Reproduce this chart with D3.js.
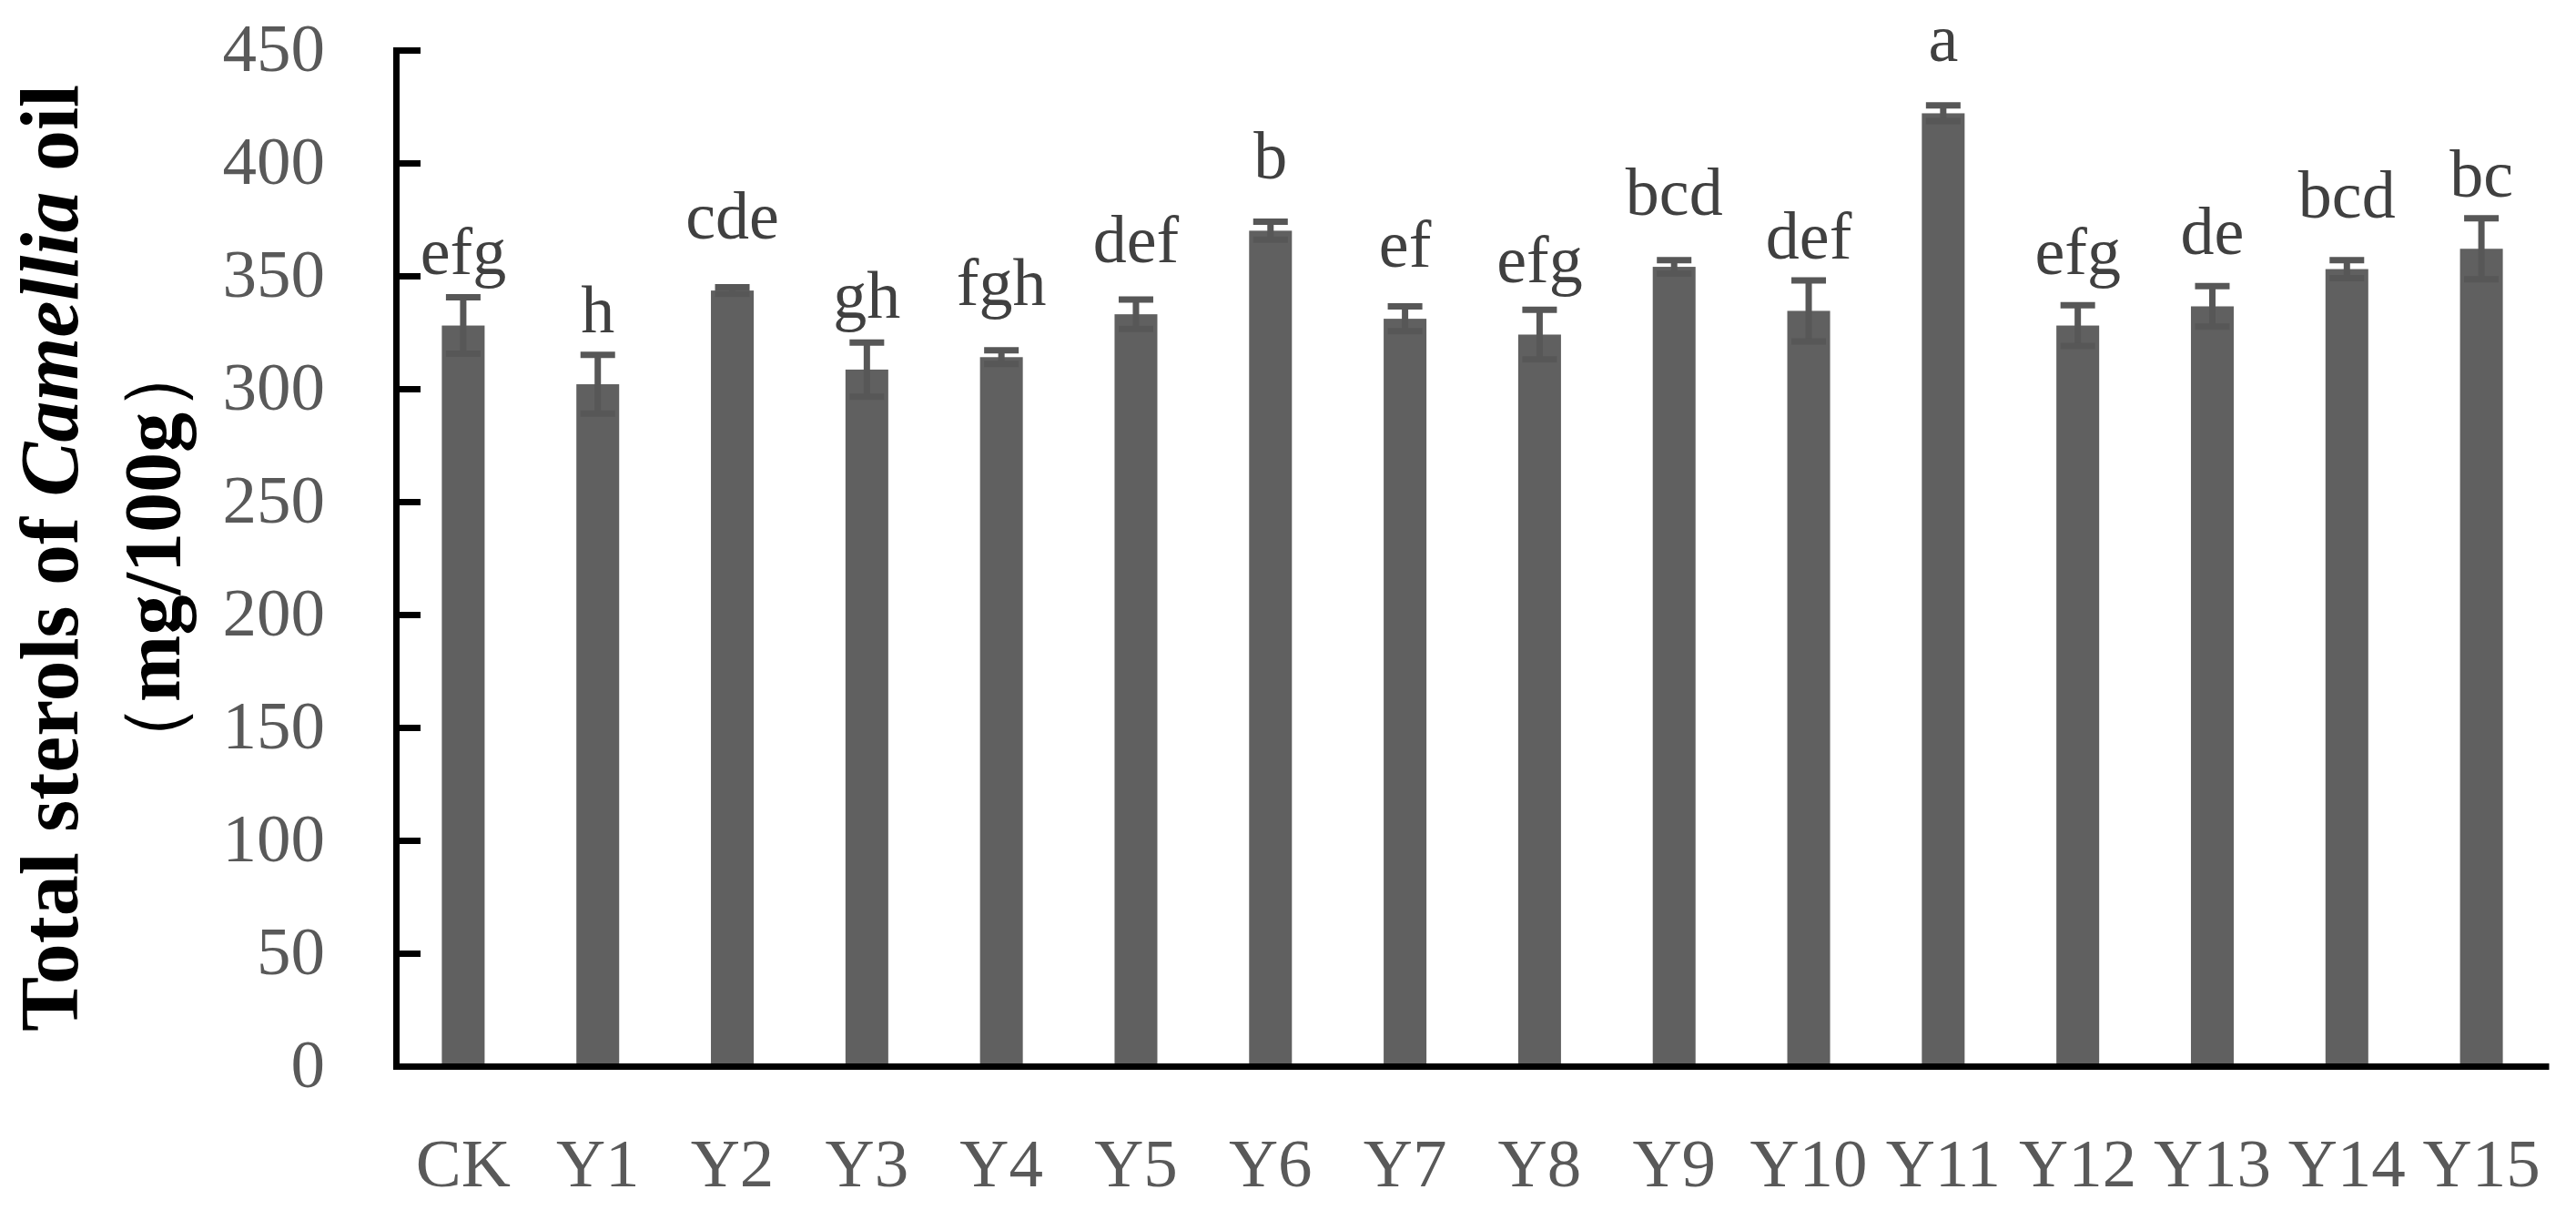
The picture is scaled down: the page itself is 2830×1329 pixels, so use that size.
<!DOCTYPE html>
<html lang="en">
<head>
<meta charset="UTF-8">
<title>Total sterols of Camellia oil</title>
<script src="https://d3js.org/d3.v7.min.js"></script>
<style type="text/css">
	body { margin: 0; background: #fff; }
	#chart text { font-family: "Liberation Serif", "DejaVu Serif", serif; }
</style>
</head>
<body>
<div id="chart"></div>
<script type="text/javascript">

// data (mg/100g)
const categories = ['CK','Y1','Y2','Y3','Y4','Y5','Y6','Y7','Y8','Y9','Y10','Y11','Y12','Y13','Y14','Y15'];
const sterols = [328, 302, 343.5, 308.5, 314, 333, 370, 331, 324, 354, 334.5, 422, 328, 336.5, 353, 362];
const sd = [12.5, 13, 1.5, 12, 3, 6.5, 4, 5.5, 11, 3, 13.5, 3.5, 9, 9, 4, 13.5];
const letters = ['efg','h','cde','gh','fgh','def','b','ef','efg','bcd','def','a','efg','de','bcd','bc'];
const yTicks = [0, 50, 100, 150, 200, 250, 300, 350, 400, 450];

const width = 2830, height = 1329;
const plotLeft = 435, plotRight = 2800, plotBottom = 1171, plotTop = 55;

const svg = d3.select('#chart').append('svg')
	.attr('width', width)
	.attr('height', height);

const x = d3.scaleBand()
	.domain(categories)
	.range([plotLeft, plotRight])
	.paddingInner(0.682)
	.paddingOuter(0.341);

const y = d3.scaleLinear()
	.domain([0, 450])
	.range([plotBottom, plotTop]);

// bars
svg.append('g').selectAll('rect')
	.data(categories)
	.enter().append('rect')
		.attr('x', d => x(d))
		.attr('y', (d, i) => y(sterols[i]))
		.attr('width', x.bandwidth())
		.attr('height', (d, i) => y(0) - y(sterols[i]))
		.attr('fill', '#606060');

// error bars
const err = svg.append('g')
	.attr('stroke', '#575757')
	.attr('stroke-width', 7);
categories.forEach(function(c, i) {
	const cx = x(c) + x.bandwidth() / 2;
	const hi = y(sterols[i] + sd[i]), lo = y(sterols[i] - sd[i]);
	err.append('line').attr('x1', cx).attr('x2', cx).attr('y1', hi).attr('y2', lo);
	err.append('line').attr('x1', cx - 19).attr('x2', cx + 19).attr('y1', hi).attr('y2', hi);
	err.append('line').attr('x1', cx - 19).attr('x2', cx + 19).attr('y1', lo).attr('y2', lo);
});

// significance letters
svg.append('g').selectAll('text')
	.data(categories)
	.enter().append('text')
		.attr('x', d => x(d) + x.bandwidth() / 2)
		.attr('y', (d, i) => y(sterols[i]) - 57)
		.attr('text-anchor', 'middle')
		.attr('font-size', 74)
		.attr('fill', '#404040')
		.text((d, i) => letters[i]);

// y axis, ticks pointing inside
const yAxis = svg.append('g')
	.attr('transform', 'translate(' + plotLeft + ',0)')
	.call(d3.axisLeft(y).tickValues(yTicks).tickSizeInner(-27).tickSizeOuter(0).tickPadding(78));
yAxis.attr('font-family', null).attr('font-size', 75);
yAxis.select('.domain').attr('stroke', '#000').attr('stroke-width', 7).attr('stroke-linecap', 'square');
yAxis.selectAll('.tick line').attr('stroke', '#000').attr('stroke-width', 7);
yAxis.selectAll('.tick text').attr('fill', '#595959').attr('dy', '0.3em');

// x axis
const xAxis = svg.append('g')
	.attr('transform', 'translate(0,' + plotBottom + ')')
	.call(d3.axisBottom(x).tickSize(0).tickPadding(79));
xAxis.attr('font-family', null).attr('font-size', 75);
xAxis.select('.domain').attr('stroke', '#000').attr('stroke-width', 7);
xAxis.selectAll('.tick text').attr('fill', '#595959');

// y title
const t1 = svg.append('text')
	.attr('transform', 'translate(85,613) rotate(-90)')
	.attr('text-anchor', 'middle')
	.attr('font-size', 90)
	.attr('font-weight', 'bold')
	.attr('fill', '#000');
t1.append('tspan').text('Total sterols of ');
t1.append('tspan').attr('font-style', 'italic').text('Camellia');
t1.append('tspan').text(' oil');

const t2 = svg.append('text')
	.attr('transform', 'translate(197,612) rotate(-90)')
	.attr('text-anchor', 'middle')
	.attr('font-size', 88)
	.attr('font-weight', 'bold')
	.attr('fill', '#000');
t2.append('tspan').attr('font-weight', 'normal').text('（');
t2.append('tspan').text('mg/100g');
t2.append('tspan').attr('font-weight', 'normal').text('）');

</script>
</body>
</html>
